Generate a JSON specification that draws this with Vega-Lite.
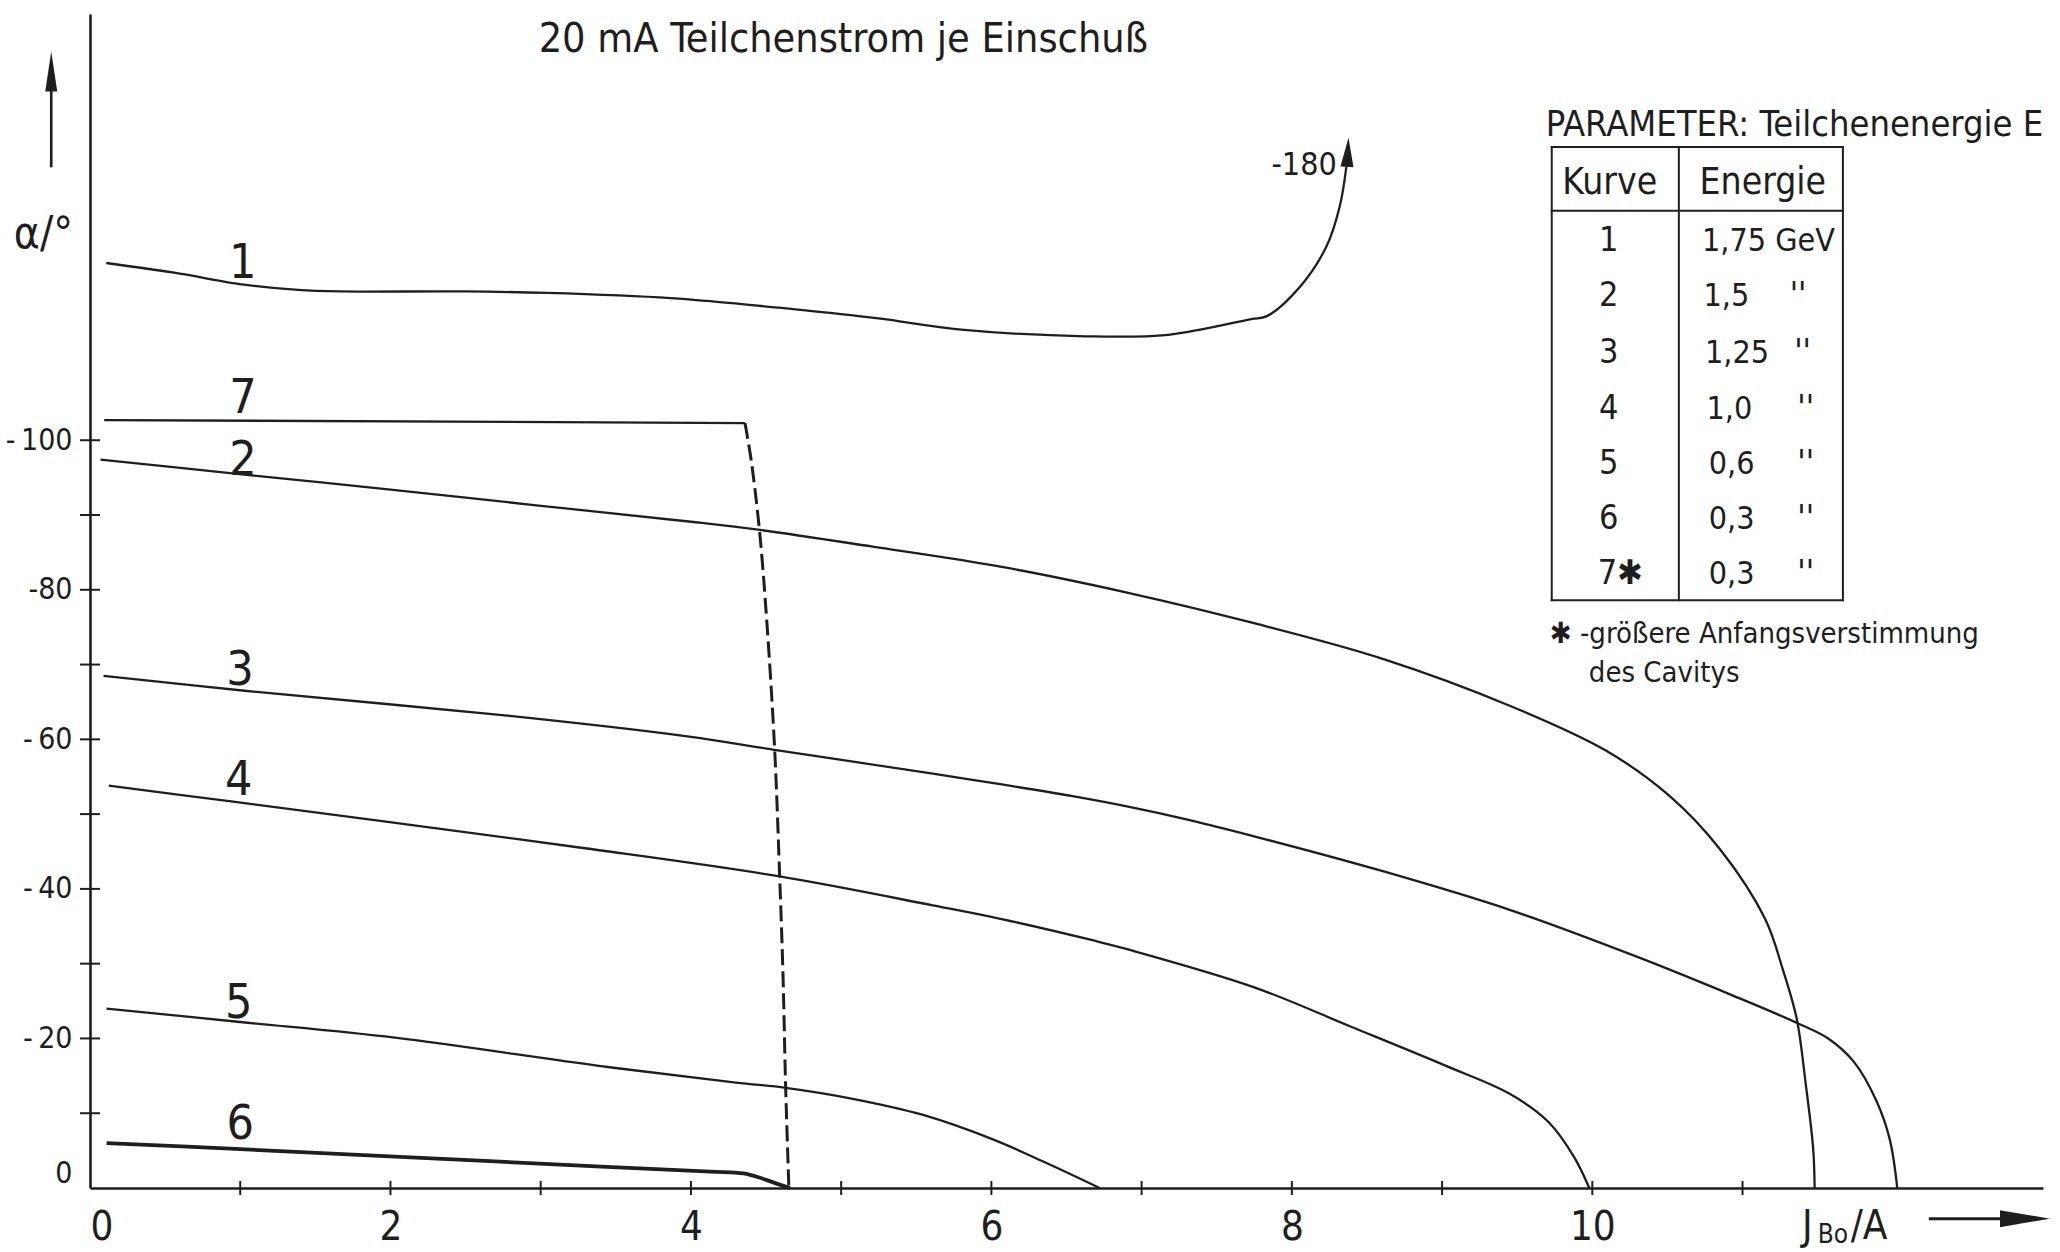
{
  "$schema": "https://vega.github.io/schema/vega-lite/v6.json",
  "width": 1953,
  "height": 1174,
  "autosize": {"type": "none"},
  "padding": {"left": 90, "top": 14, "right": 17, "bottom": 64},
  "background": "#ffffff",
  "config": {
    "view": {"stroke": null},
    "font": "DejaVu Sans Condensed, Liberation Sans, sans-serif",
    "axis": {"grid": false, "ticks": false, "domainColor": "#1e1e1e", "domainWidth": 2.6, "labelColor": "#1e1e1e"},
    "text": {"color": "#1e1e1e"}
  },
  "datasets": {
    "curves": [
      {"k": "1", "x": 0.108, "a": -123.7}, {"k": "1", "x": 0.56, "a": -122.4}, {"k": "1", "x": 1.026, "a": -120.8},
      {"k": "1", "x": 1.385, "a": -120.1}, {"k": "1", "x": 1.664, "a": -119.9}, {"k": "1", "x": 2.489, "a": -119.9},
      {"k": "1", "x": 3.04, "a": -119.7}, {"k": "1", "x": 3.865, "a": -119.0}, {"k": "1", "x": 4.696, "a": -117.5},
      {"k": "1", "x": 5.248, "a": -116.3}, {"k": "1", "x": 5.8, "a": -114.8}, {"k": "1", "x": 6.625, "a": -113.9},
      {"k": "1", "x": 7.177, "a": -114.1}, {"k": "1", "x": 7.73, "a": -116.2}, {"k": "1", "x": 7.834, "a": -116.6},
      {"k": "1", "x": 8.053, "a": -120.5}, {"k": "1", "x": 8.23, "a": -125.9}, {"k": "1", "x": 8.319, "a": -131.3},
      {"k": "1", "x": 8.363, "a": -136.6},

      {"k": "2", "x": 0.07, "a": -97.4}, {"k": "2", "x": 0.98, "a": -95.5}, {"k": "2", "x": 2.0, "a": -93.4},
      {"k": "2", "x": 2.97, "a": -91.3}, {"k": "2", "x": 4.0, "a": -89.1}, {"k": "2", "x": 4.46, "a": -88.0},
      {"k": "2", "x": 5.2, "a": -85.8}, {"k": "2", "x": 6.06, "a": -83.1}, {"k": "2", "x": 6.91, "a": -79.6},
      {"k": "2", "x": 7.755, "a": -75.5}, {"k": "2", "x": 8.6, "a": -70.8}, {"k": "2", "x": 9.45, "a": -64.5},
      {"k": "2", "x": 10.09, "a": -58.5}, {"k": "2", "x": 10.51, "a": -52.5}, {"k": "2", "x": 10.85, "a": -45.3},
      {"k": "2", "x": 11.15, "a": -36.0}, {"k": "2", "x": 11.27, "a": -29.1}, {"k": "2", "x": 11.36, "a": -22.7},
      {"k": "2", "x": 11.42, "a": -14.0}, {"k": "2", "x": 11.47, "a": -5.3}, {"k": "2", "x": 11.48, "a": 0},

      {"k": "3", "x": 0.09, "a": -68.5}, {"k": "3", "x": 1.03, "a": -66.5}, {"k": "3", "x": 2.81, "a": -63.1},
      {"k": "3", "x": 3.975, "a": -60.4}, {"k": "3", "x": 4.556, "a": -58.6}, {"k": "3", "x": 5.61, "a": -55.4},
      {"k": "3", "x": 6.06, "a": -54.0}, {"k": "3", "x": 6.54, "a": -52.4}, {"k": "3", "x": 6.91, "a": -51.0},
      {"k": "3", "x": 7.32, "a": -49.2}, {"k": "3", "x": 7.755, "a": -47.0}, {"k": "3", "x": 8.6, "a": -42.4},
      {"k": "3", "x": 9.45, "a": -37.2}, {"k": "3", "x": 10.3, "a": -30.9}, {"k": "3", "x": 10.94, "a": -25.7},
      {"k": "3", "x": 11.36, "a": -22.1}, {"k": "3", "x": 11.57, "a": -20.0}, {"k": "3", "x": 11.74, "a": -16.9},
      {"k": "3", "x": 11.89, "a": -11.7}, {"k": "3", "x": 11.98, "a": -6.5}, {"k": "3", "x": 12.03, "a": 0},

      {"k": "4", "x": 0.125, "a": -53.8}, {"k": "4", "x": 0.94, "a": -51.7}, {"k": "4", "x": 1.97, "a": -49.0},
      {"k": "4", "x": 3.27, "a": -45.5}, {"k": "4", "x": 4.58, "a": -41.7}, {"k": "4", "x": 5.61, "a": -37.8},
      {"k": "4", "x": 6.06, "a": -36.0}, {"k": "4", "x": 6.68, "a": -33.1}, {"k": "4", "x": 6.91, "a": -31.9},
      {"k": "4", "x": 7.755, "a": -26.8}, {"k": "4", "x": 8.39, "a": -21.6}, {"k": "4", "x": 9.03, "a": -16.3},
      {"k": "4", "x": 9.45, "a": -12.6}, {"k": "4", "x": 9.71, "a": -8.8}, {"k": "4", "x": 9.88, "a": -4.1},
      {"k": "4", "x": 9.98, "a": 0},

      {"k": "5", "x": 0.11, "a": -24.0}, {"k": "5", "x": 1.0, "a": -22.2}, {"k": "5", "x": 2.03, "a": -20.1},
      {"k": "5", "x": 3.4, "a": -16.3}, {"k": "5", "x": 4.3, "a": -14.1}, {"k": "5", "x": 4.63, "a": -13.4},
      {"k": "5", "x": 5.06, "a": -12.0}, {"k": "5", "x": 5.54, "a": -9.8}, {"k": "5", "x": 6.01, "a": -6.5},
      {"k": "5", "x": 6.37, "a": -3.3}, {"k": "5", "x": 6.72, "a": 0},

      {"k": "6", "x": 0.11, "a": -6.0}, {"k": "6", "x": 1.0, "a": -5.2}, {"k": "6", "x": 2.03, "a": -4.2},
      {"k": "6", "x": 3.37, "a": -2.9}, {"k": "6", "x": 4.13, "a": -2.2}, {"k": "6", "x": 4.35, "a": -1.95},
      {"k": "6", "x": 4.47, "a": -1.3}, {"k": "6", "x": 4.59, "a": -0.45}, {"k": "6", "x": 4.66, "a": 0},

      {"k": "7a", "x": 0.095, "a": -102.7}, {"k": "7a", "x": 4.36, "a": -102.3},

      {"k": "7b", "x": 4.36, "a": -102.3}, {"k": "7b", "x": 4.402, "a": -97.2}, {"k": "7b", "x": 4.457, "a": -87.8},
      {"k": "7b", "x": 4.506, "a": -75.5}, {"k": "7b", "x": 4.557, "a": -58.8}, {"k": "7b", "x": 4.59, "a": -42.1},
      {"k": "7b", "x": 4.613, "a": -28.4}, {"k": "7b", "x": 4.63, "a": -13.9}, {"k": "7b", "x": 4.652, "a": 0}
    ],
    "table_lines": [
      {"x": 9.73, "x2": 11.668, "a": -139.2, "a2": -139.2},
      {"x": 9.73, "x2": 11.668, "a": -78.6, "a2": -78.6},
      {"x": 9.73, "x2": 9.73, "a": -139.2, "a2": -78.6},
      {"x": 11.668, "x2": 11.668, "a": -139.2, "a2": -78.6},
      {"x": 10.576, "x2": 10.576, "a": -139.2, "a2": -78.6},
      {"x": 9.73, "x2": 11.668, "a": -130.7, "a2": -130.7}
    ]
  },
  "encoding": {
    "x": {
      "field": "x", "type": "quantitative",
      "scale": {"domain": [0, 13], "nice": false, "zero": false},
      "axis": {"title": null, "values": [0, 2, 4, 6, 8, 10], "labelFontSize": 40, "labelPadding": 19, "labelFlush": true, "labelAngle": 0}
    },
    "y": {
      "field": "a", "type": "quantitative",
      "scale": {"domain": [-157, 0], "reverse": true, "nice": false, "zero": false},
      "axis": {
        "title": null, "values": [-100, -80, -60, -40, -20, 0], "labelFontSize": 30, "labelPadding": 18,
        "labelFlush": true, "labelFlushOffset": 0,
        "labelExpr": "datum.value == 0 ? '0' : datum.value == -80 ? '-80' : '-\u2009' + abs(datum.value)"
      }
    }
  },
  "layer": [
    {
      "data": {"values": [{"x": 0, "a": -10}, {"x": 0, "a": -20}, {"x": 0, "a": -30}, {"x": 0, "a": -40}, {"x": 0, "a": -50}, {"x": 0, "a": -60}, {"x": 0, "a": -70}, {"x": 0, "a": -80}, {"x": 0, "a": -90}, {"x": 0, "a": -100}]},
      "mark": {"type": "tick", "orient": "horizontal", "size": 20, "thickness": 2, "color": "#1e1e1e", "opacity": 1}
    },
    {
      "data": {"values": [{"x": 1, "a": 0}, {"x": 2, "a": 0}, {"x": 3, "a": 0}, {"x": 4, "a": 0}, {"x": 5, "a": 0}, {"x": 6, "a": 0}, {"x": 7, "a": 0}, {"x": 8, "a": 0}, {"x": 9, "a": 0}, {"x": 10, "a": 0}, {"x": 11, "a": 0}]},
      "mark": {"type": "tick", "orient": "vertical", "size": 14, "thickness": 2, "color": "#1e1e1e", "opacity": 1}
    },
    {
      "data": {"name": "curves"},
      "transform": [{"filter": "datum.k != '6' && datum.k != '7b'"}],
      "mark": {"type": "line", "interpolate": "catmull-rom", "color": "#1e1e1e", "strokeWidth": 2.3, "strokeJoin": "round"},
      "encoding": {"detail": {"field": "k"}}
    },
    {
      "data": {"name": "curves"},
      "transform": [{"filter": "datum.k == '6'"}],
      "mark": {"type": "line", "interpolate": "catmull-rom", "color": "#1e1e1e", "strokeWidth": 3.8, "strokeJoin": "round"},
      "encoding": {}
    },
    {
      "data": {"name": "curves"},
      "transform": [{"filter": "datum.k == '7b'"}],
      "mark": {"type": "line", "interpolate": "catmull-rom", "color": "#1e1e1e", "strokeWidth": 3, "strokeDash": [16, 6]},
      "encoding": {}
    },
    {
      "data": {"values": [{"x": 8.372, "a": -138.5}]},
      "mark": {"type": "point", "shape": "M 0 -1 L 0.45 1 L -0.45 1 Z", "size": 841, "filled": true, "opacity": 1, "color": "#1e1e1e", "angle": 3}
    },
    {
      "data": {"values": [{"x": -0.258, "a": -136.5}]},
      "mark": {"type": "rule", "color": "#1e1e1e", "strokeWidth": 2.6},
      "encoding": {"y2": {"datum": -147.5}}
    },
    {
      "data": {"values": [{"x": -0.258, "a": -149.3}]},
      "mark": {"type": "point", "shape": "M 0 -1 L 0.3 1 L -0.3 1 Z", "size": 1600, "filled": true, "opacity": 1, "color": "#1e1e1e"}
    },
    {
      "data": {"values": [{"x": 12.24, "a": 4.1}]},
      "mark": {"type": "rule", "color": "#1e1e1e", "strokeWidth": 3},
      "encoding": {"x2": {"datum": 12.8}}
    },
    {
      "data": {"values": [{"x": 12.88, "a": 4.1}]},
      "mark": {"type": "point", "shape": "M 1 0 L -1 -0.34 L -1 0.34 Z", "size": 2500, "filled": true, "opacity": 1, "color": "#1e1e1e"}
    },
    {
      "data": {"name": "table_lines"},
      "mark": {"type": "rule", "color": "#1e1e1e", "strokeWidth": 2, "strokeCap": "square"},
      "encoding": {"x2": {"field": "x2"}, "y2": {"field": "a2"}}
    },
    {
      "data": {"values": [{"x": 5.014, "a": -151.9, "t": "20 mA Teilchenstrom je Einschuß"}]},
      "mark": {"type": "text", "fontSize": 41, "align": "center", "baseline": "alphabetic"},
      "encoding": {"text": {"field": "t"}}
    },
    {
      "data": {"values": [
        {"x": 1.017, "a": -121.7, "t": "1"},
        {"x": 1.018, "a": -103.7, "t": "7"},
        {"x": 1.018, "a": -95.4, "t": "2"},
        {"x": 0.998, "a": -67.3, "t": "3"},
        {"x": 0.99, "a": -52.6, "t": "4"},
        {"x": 0.99, "a": -22.8, "t": "5"},
        {"x": 1.0, "a": -6.6, "t": "6"}
      ]},
      "mark": {"type": "text", "fontSize": 48, "align": "center", "baseline": "alphabetic"},
      "encoding": {"text": {"field": "t"}}
    },
    {
      "data": {"values": [{"x": 8.299, "a": -135.5, "t": "-180"}]},
      "mark": {"type": "text", "fontSize": 32, "align": "right", "baseline": "alphabetic"},
      "encoding": {"text": {"field": "t"}}
    },
    {
      "data": {"values": [{"x": 9.69, "a": -140.7, "t": "PARAMETER: Teilchenenergie E"}]},
      "mark": {"type": "text", "fontSize": 36, "align": "left", "baseline": "alphabetic"},
      "encoding": {"text": {"field": "t"}}
    },
    {
      "data": {"values": [{"x": 10.116, "a": -132.9, "t": "Kurve"}, {"x": 11.135, "a": -132.9, "t": "Energie"}]},
      "mark": {"type": "text", "fontSize": 37, "align": "center", "baseline": "alphabetic"},
      "encoding": {"text": {"field": "t"}}
    },
    {
      "data": {"values": [
        {"x": 10.11, "a": -125.29, "t": "1"},
        {"x": 10.11, "a": -117.92, "t": "2"},
        {"x": 10.11, "a": -110.27, "t": "3"},
        {"x": 10.11, "a": -102.9, "t": "4"},
        {"x": 10.11, "a": -95.52, "t": "5"},
        {"x": 10.11, "a": -88.16, "t": "6"},
        {"x": 10.186, "a": -80.8, "t": "7✱"}
      ]},
      "mark": {"type": "text", "fontSize": 34, "align": "center", "baseline": "alphabetic"},
      "encoding": {"text": {"field": "t"}}
    },
    {
      "data": {"values": [
        {"x": 10.73, "a": -125.29, "t": "1,75 GeV"},
        {"x": 10.74, "a": -117.92, "t": "1,5"},
        {"x": 10.75, "a": -110.27, "t": "1,25"},
        {"x": 10.76, "a": -102.9, "t": "1,0"},
        {"x": 10.775, "a": -95.52, "t": "0,6"},
        {"x": 10.775, "a": -88.16, "t": "0,3"},
        {"x": 10.775, "a": -80.8, "t": "0,3"}
      ]},
      "mark": {"type": "text", "fontSize": 32, "align": "left", "baseline": "alphabetic"},
      "encoding": {"text": {"field": "t"}}
    },
    {
      "data": {"values": [
        {"x": 11.37, "a": -117.92, "t": "''"},
        {"x": 11.4, "a": -110.27, "t": "''"},
        {"x": 11.42, "a": -102.9, "t": "''"},
        {"x": 11.42, "a": -95.52, "t": "''"},
        {"x": 11.42, "a": -88.16, "t": "''"},
        {"x": 11.42, "a": -80.8, "t": "''"}
      ]},
      "mark": {"type": "text", "fontSize": 34, "align": "center", "baseline": "alphabetic"},
      "encoding": {"text": {"field": "t"}}
    },
    {
      "data": {"values": [
        {"x": 9.717, "a": -72.9, "t": "✱ -größere Anfangsverstimmung"},
        {"x": 9.977, "a": -67.7, "t": "des Cavitys"}
      ]},
      "mark": {"type": "text", "fontSize": 29, "align": "left", "baseline": "alphabetic"},
      "encoding": {"text": {"field": "t"}}
    },
    {
      "data": {"values": [{"x": -0.31, "a": -127.4, "t": "α/°"}]},
      "mark": {"type": "text", "fontSize": 44, "align": "center", "baseline": "middle"},
      "encoding": {"text": {"field": "t"}}
    },
    {
      "data": {"values": [{"x": 11.395, "a": 6.8, "t": "J"}, {"x": 11.72, "a": 6.8, "t": "/A"}]},
      "mark": {"type": "text", "fontSize": 40, "align": "left", "baseline": "alphabetic"},
      "encoding": {"text": {"field": "t"}}
    },
    {
      "data": {"values": [{"x": 11.5, "a": 7.4, "t": "Bo"}]},
      "mark": {"type": "text", "fontSize": 26, "align": "left", "baseline": "alphabetic"},
      "encoding": {"text": {"field": "t"}}
    }
  ]
}
